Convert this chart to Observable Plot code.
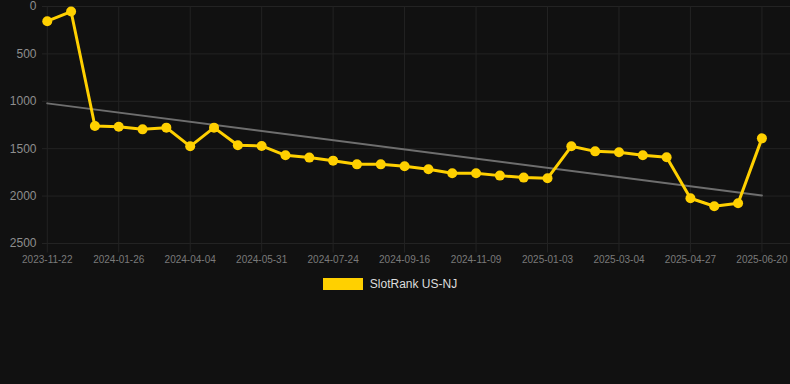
<!DOCTYPE html>
<html>
<head>
<meta charset="utf-8">
<script src="https://cdn.jsdelivr.net/npm/d3@7"></script>
<script src="https://cdn.jsdelivr.net/npm/@observablehq/plot@0.6"></script>
<style>
  html, body { margin: 0; padding: 0; background: #111111; }
  body { width: 790px; height: 384px; overflow: hidden; font-family: "Liberation Sans", Arial, sans-serif; }
  #legend { display: flex; justify-content: center; align-items: center; height: 28px; padding-right: 10px; color: #dddddd; font-size: 12px; }
  #legend .sw { width: 40px; height: 12px; background: #FFD000; margin-right: 7px; }
</style>
</head>
<body>
<div id="chart"></div>
<div id="legend"><span class="sw"></span><span>SlotRank US-NJ</span></div>
<script>
const seriesName = "SlotRank US-NJ";
const ranks = [155, 53, 1261, 1268, 1296, 1278, 1475, 1278, 1464, 1471,
               1570, 1594, 1626, 1665, 1665, 1686, 1717, 1759, 1759, 1784,
               1805, 1812, 1475, 1528, 1538, 1570, 1591, 2023, 2107, 2075, 1391];
const tickLabels = ["2023-11-22", "2024-01-26", "2024-04-04", "2024-05-31", "2024-07-24",
                    "2024-09-16", "2024-11-09", "2025-01-03", "2025-03-04", "2025-04-27", "2025-06-20"];
const tickEvery = 3;
const yTicks = [0, 500, 1000, 1500, 2000, 2500];

const data = ranks.map((v, i) => ({i, v}));
const xTicks = tickLabels.map((_, k) => k * tickEvery);

const chart = Plot.plot({
  width: 790,
  height: 270,
  marginLeft: 42,
  marginRight: 0,
  marginTop: 6,
  marginBottom: 27,
  style: {background: "#111111", fontFamily: "'Liberation Sans', Arial, sans-serif", overflow: "visible"},
  x: {type: "linear", domain: [-0.2, 31.2]},
  y: {domain: [0, 2500], reverse: true},
  marks: [
    Plot.ruleY(yTicks, {y: d => d, stroke: "#232323", strokeWidth: 1}),
    Plot.ruleX(xTicks, {x: d => d, y1: 0, y2: 2600, stroke: "#232323", strokeWidth: 1, clip: false}),
    Plot.axisY({ticks: yTicks, tickFormat: d => String(d), tickSize: 0, tickPadding: 6, fontSize: 12, fill: "#8e8e8e", label: null}),
    Plot.axisX({ticks: xTicks, tickFormat: (d) => tickLabels[Math.round(d / tickEvery)], tickSize: 0, tickPadding: 12, fontSize: 10, fill: "#7a7a7a", label: null}),
    Plot.linearRegressionY(data, {x: "i", y: "v", stroke: "#6e6e6e", strokeWidth: 2, ci: 0}),
    Plot.line(data, {x: "i", y: "v", stroke: "#FFD000", strokeWidth: 3}),
    Plot.dot(data, {x: "i", y: "v", r: 5, fill: "#FFD000", stroke: "none"})
  ]
});
document.getElementById("chart").appendChild(chart);
</script>
</body>
</html>
